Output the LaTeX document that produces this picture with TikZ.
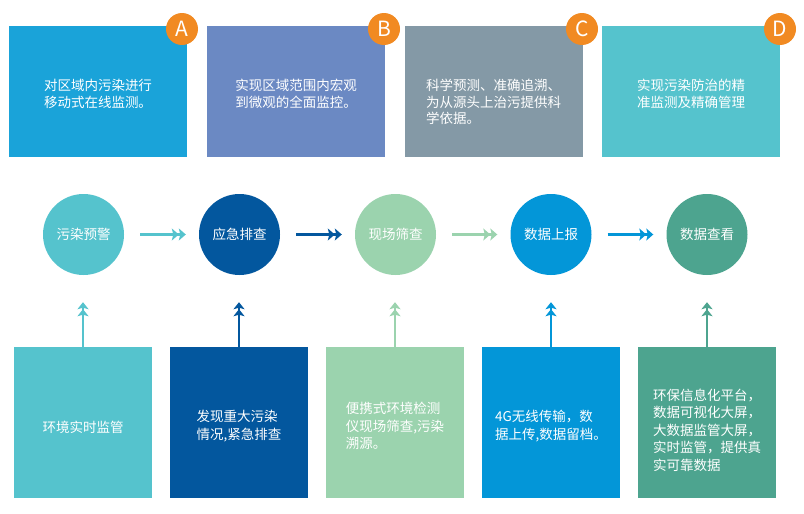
\documentclass[tikz,border=0pt]{standalone}
\usepackage{fontspec}
\setmainfont{Noto Sans CJK SC}
\setsansfont{Noto Sans CJK SC}
\usetikzlibrary{shapes.geometric,arrows.meta,calc}
\definecolor{cA}{HTML}{1AA3D9}
\definecolor{cB}{HTML}{6B89C3}
\definecolor{cC}{HTML}{8499A6}
\definecolor{cD}{HTML}{55C3CD}
\definecolor{badge}{HTML}{F18A22}
\definecolor{k1}{HTML}{55C3CD}
\definecolor{k2}{HTML}{03579E}
\definecolor{k3}{HTML}{9BD3AE}
\definecolor{k4}{HTML}{0396D8}
\definecolor{k5}{HTML}{4DA48F}
\begin{document}
\begin{tikzpicture}[x=1pt,y=-1pt,
  topbox/.style={draw=none,minimum width=178pt,minimum height=131pt,inner sep=0pt},
  toptext/.style={text=white,font=\fontsize{13.5}{16.5}\selectfont,align=left,anchor=north,inner sep=0pt},
  badgenode/.style={circle,fill=badge,minimum size=32pt,inner sep=0pt,text=white,font=\fontsize{21}{21}\selectfont},
  stepcircle/.style={circle,minimum size=81pt,inner sep=0pt,text=white,font=\fontsize{13.5}{16}\selectfont},
  botbox/.style={minimum width=138pt,minimum height=151pt,inner sep=0pt},
  bottext/.style={text=white,font=\fontsize{13.5}{17.5}\selectfont,align=left,inner sep=0pt},
  harrow/.style={line width=2.5pt,-{Stealth[length=7pt,width=12pt,inset=1.5pt]Stealth[length=7pt,width=12pt,inset=1.5pt]}},
  varrow/.style={line width=1.8pt,-{Stealth[length=7pt,width=11pt,inset=1.5pt]Stealth[length=7pt,width=11pt,inset=1.5pt]}}
]
\useasboundingbox (0,0) rectangle (804,514);
% top boxes
\node[topbox,fill=cA] (ta) at (98,91.5) {};
\node[topbox,fill=cB] (tb) at (296,91.5) {};
\node[topbox,fill=cC] (tc) at (493.5,91.5) {};
\node[topbox,fill=cD] (td) at (691,91.5) {};
\node[toptext] (tta) at (98,79) {对区域内污染进行\\移动式在线监测。};
\node[toptext] (ttb) at (296,79) {实现区域范围内宏观\\到微观的全面监控。};
\node[toptext] (ttc) at (493.5,79) {科学预测、准确追溯、\\为从源头上治污提供科\\学依据。};
\node[toptext] (ttd) at (691,79) {实现污染防治的精\\准监测及精确管理};
\node[badgenode] (ba) at (182,29) {A};
\node[badgenode] (bb) at (384,29) {B};
\node[badgenode] (bc) at (582,29) {C};
\node[badgenode] (bd) at (780,29) {D};
% circles
\node[stepcircle,fill=k1] (e1) at (83.5,234.5) {污染预警};
\node[stepcircle,fill=k2] (e2) at (239.5,234.5) {应急排查};
\node[stepcircle,fill=k3] (e3) at (395.5,234.5) {现场筛查};
\node[stepcircle,fill=k4] (e4) at (551,234.5) {数据上报};
\node[stepcircle,fill=k5] (e5) at (707,234.5) {数据查看};
% horizontal arrows
\draw[harrow,k1] ($(e1.east)+(16,0)$) -- ($(e2.west)+(-13,0)$);
\draw[harrow,k2] ($(e2.east)+(16,0)$) -- ($(e3.west)+(-13,0)$);
\draw[harrow,k3] ($(e3.east)+(16,0)$) -- ($(e4.west)+(-13,0)$);
\draw[harrow,k4] ($(e4.east)+(16,0)$) -- ($(e5.west)+(-13,0)$);
% bottom boxes
\node[botbox,fill=k1] (b1) at (83,422.5) {};
\node[botbox,fill=k2] (b2) at (239,422.5) {};
\node[botbox,fill=k3] (b3) at (395,422.5) {};
\node[botbox,fill=k4] (b4) at (551,422.5) {};
\node[botbox,fill=k5] (b5) at (707,422.5) {};
\node[bottext] (bt1) at (83,427) {环境实时监管};
\node[bottext] (bt2) at (239,426) {发现重大污染\\情况,紧急排查};
\node[bottext] (bt3) at (395,426) {便携式环境检测\\仪现场筛查,污染\\溯源。};
\node[bottext] (bt4) at (551,426) {4G无线传输，数\\据上传,数据留档。};
\node[bottext] (bt5) at (707,430) {环保信息化平台，\\数据可视化大屏，\\大数据监管大屏，\\实时监管，提供真\\实可靠数据};
% vertical arrows
\foreach \i in {1,...,5}{
  \coordinate (v\i) at ($(e\i.south)+(0,27)$);
}
\draw[varrow,k1] (b1.north) -- (b1.north |- v1);
\draw[varrow,k2] (b2.north) -- (b2.north |- v2);
\draw[varrow,k3] (b3.north) -- (b3.north |- v3);
\draw[varrow,k4] (b4.north) -- (b4.north |- v4);
\draw[varrow,k5] (b5.north) -- (b5.north |- v5);
\end{tikzpicture}
\end{document}
